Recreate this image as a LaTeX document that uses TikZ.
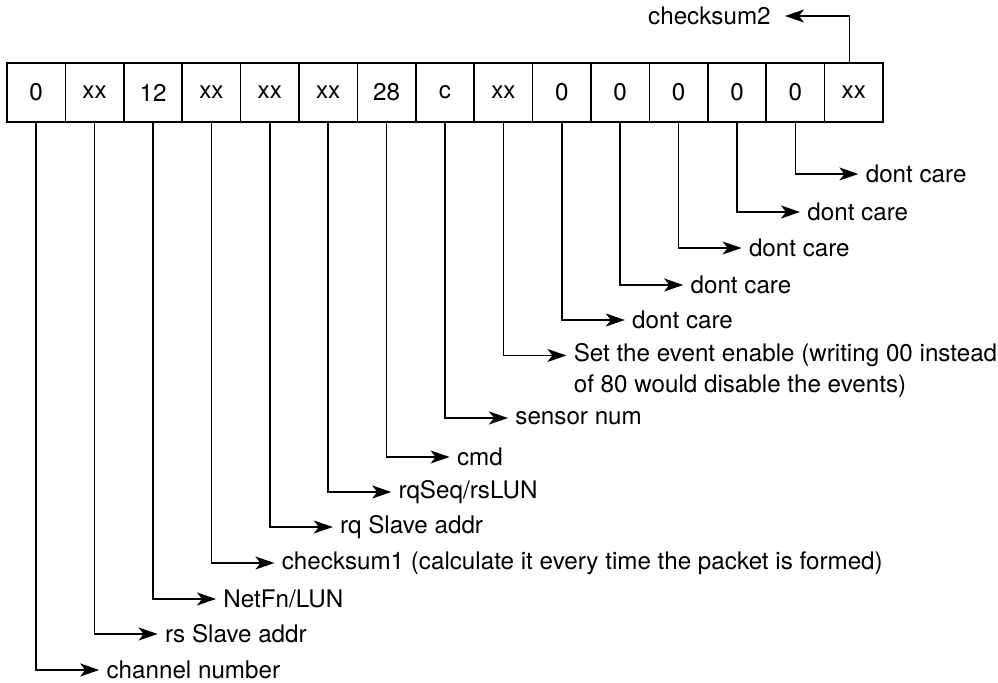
\documentclass[tikz,border=0pt]{standalone}
\usepackage{fontspec}
\setmainfont{TeX Gyre Heros}
\usetikzlibrary{arrows.meta}
\begin{document}
\begin{tikzpicture}[x=0.5pt,y=-0.5pt,
  font=\fontsize{12.1}{15.5}\selectfont,
  cell/.style={draw, line width=0.75pt, minimum width=29.2pt, minimum height=29.5pt, inner sep=0pt},
  lbl/.style={anchor=west, inner xsep=3.5pt, inner ysep=1pt},
  arr/.style={line width=0.75pt, -{Stealth[length=9.5pt,width=6.5pt,inset=2.5pt]}}]
\useasboundingbox (0,0) rectangle (998,683);
% boxes
\foreach \i/\t in {0/0,1/xx,2/12,3/xx,4/xx,5/xx,6/28,7/c,8/xx,9/0,10/0,11/0,12/0,13/0,14/xx}{
  \node[cell] (b\i) at ({7+58.4*(\i+0.5)},92.5) {\t};
}
% labels
\node[lbl] (t0)  at ({7+58.4*0.5+63},670) {channel number};
\node[lbl] (t1)  at ({7+58.4*1.5+63},634) {rs Slave addr};
\node[lbl] (t2)  at ({7+58.4*2.5+63},599) {NetFn/LUN};
\node[lbl] (t3)  at ({7+58.4*3.5+63},563) {checksum1 (calculate it every time the packet is formed)};
\node[lbl] (t4)  at ({7+58.4*4.5+63},527) {rq Slave addr};
\node[lbl] (t5)  at ({7+58.4*5.5+63},492) {rqSeq/rsLUN};
\node[lbl] (t6)  at ({7+58.4*6.5+63},457) {cmd};
\node[lbl] (t7)  at ({7+58.4*7.5+63},418) {sensor num};
\node[lbl, align=left] (t8) at ({7+58.4*8.5+63},371) {Set the event enable (writing 00 instead\\of 80 would disable the events)};
\node[lbl] (t9)  at ({7+58.4*9.5+63},320) {dont care};
\node[lbl] (t10) at ({7+58.4*10.5+63},285) {dont care};
\node[lbl] (t11) at ({7+58.4*11.5+63},248) {dont care};
\node[lbl] (t12) at ({7+58.4*12.5+63},212) {dont care};
\node[lbl] (t13) at ({7+58.4*13.5+63},174) {dont care};
\node[lbl, anchor=east, inner xsep=7pt] (t14) at (785,16) {checksum2};
% connectors
\foreach \i in {0,1,2,3,4,5,6,7,9,10,11,12,13}{
  \draw[arr] (b\i.south) |- (t\i.west);
}
\draw[arr] (b8.south) |- ([yshift=7.75pt]t8.west);
\draw[arr] ([xshift=-2.25pt]b14.north) |- (t14.east);
\end{tikzpicture}
\end{document}
